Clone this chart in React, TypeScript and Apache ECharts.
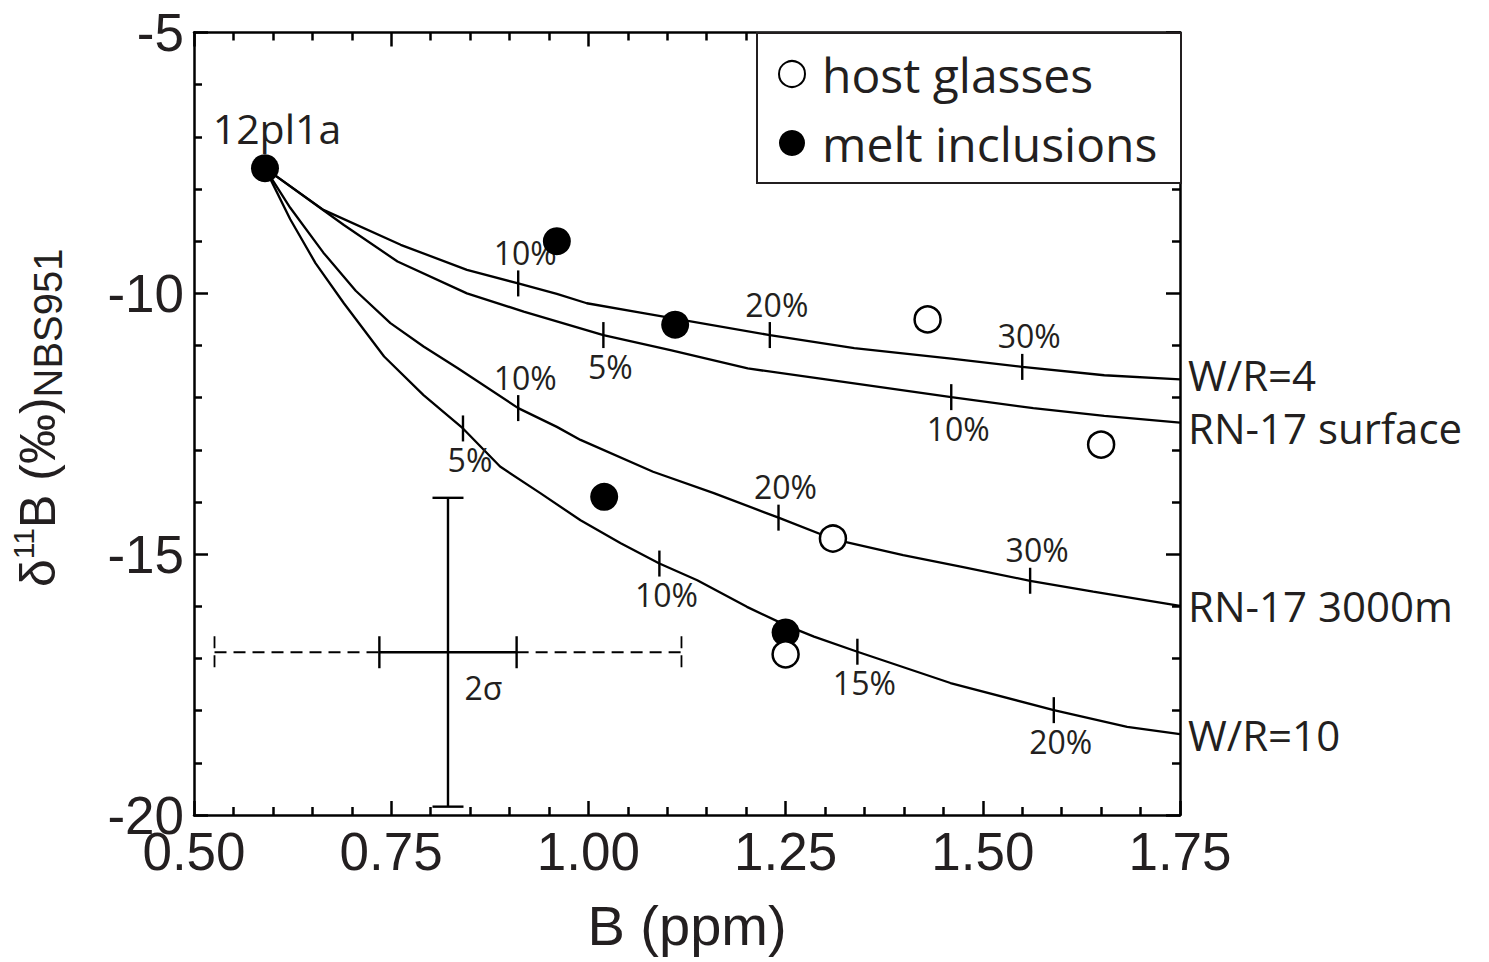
import React, { useEffect, useRef } from "react";
import * as echarts from "echarts";

// ---------------- data ----------------
const xMin = 0.5;
const xMax = 1.75;
const xStep = 0.25;
const yMin = -20;
const yMax = -5;
const yStep = 5;

const xTitle = "B (ppm)";
const legendNames = ["host glasses", "melt inclusions"];
const sourceLabel = "12pl1a";

// mixing curves
const curveNames = ["W/R=4", "RN-17 surface", "RN-17 3000m", "W/R=10"];
const wr4X = [0.59, 0.664, 0.762, 0.846, 0.911, 0.96, 0.998, 1.066, 1.23, 1.337, 1.46, 1.55, 1.654, 1.75];
const wr4Y = [-7.6, -8.4, -9.07, -9.55, -9.81, -10.01, -10.19, -10.37, -10.8, -11.05, -11.25, -11.41, -11.57, -11.65];
const surfX = [0.59, 0.69, 0.758, 0.846, 0.918, 1.019, 1.104, 1.202, 1.292, 1.46, 1.564, 1.654, 1.75];
const surfY = [-7.6, -8.69, -9.39, -10.0, -10.35, -10.8, -11.09, -11.44, -11.63, -11.99, -12.2, -12.35, -12.48];
const deepX = [0.59, 0.622, 0.664, 0.705, 0.749, 0.791, 0.834, 0.911, 0.96, 0.99, 1.082, 1.159, 1.241, 1.31, 1.399, 1.472, 1.56, 1.64, 1.75];
const deepY = [-7.6, -8.36, -9.22, -9.95, -10.57, -11.02, -11.43, -12.2, -12.56, -12.81, -13.42, -13.83, -14.3, -14.71, -15.02, -15.24, -15.51, -15.72, -15.99];
const wr10X = [0.59, 0.622, 0.654, 0.69, 0.741, 0.791, 0.841, 0.888, 0.939, 0.99, 1.041, 1.09, 1.138, 1.201, 1.25, 1.286, 1.341, 1.459, 1.59, 1.683, 1.75];
const wr10Y = [-7.6, -8.58, -9.42, -10.19, -11.21, -11.95, -12.59, -13.32, -13.83, -14.35, -14.79, -15.18, -15.5, -16.01, -16.36, -16.58, -16.87, -17.47, -17.99, -18.31, -18.45];

// percentage marks on curves
const tickX = [0.911, 1.23, 1.55, 1.019, 1.46, 0.911, 1.241, 1.56, 0.841, 1.09, 1.341, 1.59];
const tickY = [-9.81, -10.8, -11.41, -10.8, -11.99, -12.2, -14.3, -15.51, -12.59, -15.18, -16.87, -17.99];
const tickText = ["10%", "20%", "30%", "5%", "10%", "10%", "20%", "30%", "5%", "10%", "15%", "20%"];
const tickSide = ["top", "top", "top", "bottom", "bottom", "top", "top", "top", "bottom", "bottom", "bottom", "bottom"];

// samples
const hostX = [1.43, 1.65, 1.31, 1.25];
const hostY = [-10.5, -12.9, -14.7, -16.92];
const meltX = [0.59, 0.96, 1.11, 1.02, 1.25];
const meltY = [-7.6, -9.0, -10.6, -13.9, -16.5];

// 2 sigma error cross
const errCenterX = 0.822;
const errCenterY = -16.88;
const errHalfXSolid = 0.087;
const errHalfXDashed = 0.296;
const errHalfY = 2.96;
const errLabel = "2σ";
const errLabelX = 0.867;
const errLabelY = -17.55;

// ---------------- styles ----------------
const AXIS_FONT = "'Liberation Sans', Arial, Helvetica, sans-serif";
const ANNO_FONT = "'Open Sans', 'Noto Sans', sans-serif";
const TEXT = "#231f20";
const LINE = "#000000";
const END_LABEL_SHIFT = [-5, 5, 0, 0];

const pairs = (xs: number[], ys: number[]) => xs.map((x, i) => [x, ys[i]]);

function axisCommon() {
  return {
    axisLine: { show: true, onZero: false, lineStyle: { color: LINE, width: 2.5 } },
    axisTick: { show: true, inside: true, length: 14, lineStyle: { color: LINE, width: 2.5 } },
    minorTick: { show: true, splitNumber: 5, length: 8, lineStyle: { color: LINE, width: 2.5 } },
    splitLine: { show: false },
    minorSplitLine: { show: false },
  };
}

export default function App() {
  const ref = useRef<HTMLDivElement>(null);

  useEffect(() => {
    document.body.style.margin = "0";
    if (!ref.current) return;
    const chart = echarts.init(ref.current, null, { renderer: "svg" });

    const curveData = [pairs(wr4X, wr4Y), pairs(surfX, surfY), pairs(deepX, deepY), pairs(wr10X, wr10Y)];

    const lineSeries = curveNames.map((name, i) => ({
      type: "line",
      name,
      data: curveData[i],
      showSymbol: false,
      symbol: "none",
      smooth: false,
      clip: false,
      silent: true,
      z: 2,
      lineStyle: { color: LINE, width: 2.3 },
      endLabel: {
        show: true,
        formatter: "{a}",
        distance: 8,
        offset: [0, END_LABEL_SHIFT[i]],
        fontSize: 42,
        lineHeight: 40,
        fontFamily: ANNO_FONT,
        color: TEXT,
      },
    }));

    const option: any = {
      animation: false,
      backgroundColor: "#ffffff",
      grid: { left: 193.5, right: 309, top: 32.5, bottom: 147, containLabel: false },
      xAxis: [
        {
          type: "value",
          min: xMin,
          max: xMax,
          interval: xStep,
          position: "bottom",
          ...axisCommon(),
          axisLabel: {
            formatter: (v: number) => v.toFixed(2),
            fontSize: 53,
            lineHeight: 40,
            fontFamily: AXIS_FONT,
            color: TEXT,
            margin: 16,
          },
          name: xTitle,
          nameLocation: "middle",
          nameGap: 82,
          nameTextStyle: { fontSize: 56, fontFamily: AXIS_FONT, color: TEXT },
        },
        {
          type: "value",
          min: xMin,
          max: xMax,
          interval: xStep,
          position: "top",
          ...axisCommon(),
          axisLabel: { show: false },
        },
      ],
      yAxis: [
        {
          type: "value",
          min: yMin,
          max: yMax,
          interval: yStep,
          position: "left",
          ...axisCommon(),
          axisLabel: { fontSize: 53, lineHeight: 36, fontFamily: AXIS_FONT, color: TEXT, margin: 10 },
          name: "{d|δ}{sup|11}{d|B (‰)}{sub|NBS951}",
          nameLocation: "middle",
          nameRotate: 90,
          nameGap: 126,
          nameTextStyle: {
            fontSize: 50,
            fontFamily: AXIS_FONT,
            color: TEXT,
            padding: [0, 0, 0, 12],
            rich: {
              d: { fontSize: 50, lineHeight: 60, fontFamily: AXIS_FONT, color: TEXT },
              sup: { fontSize: 30, fontFamily: AXIS_FONT, color: TEXT, verticalAlign: "top" },
              sub: { fontSize: 40, fontFamily: AXIS_FONT, color: TEXT, verticalAlign: "bottom" },
            },
          },
        },
        {
          type: "value",
          min: yMin,
          max: yMax,
          interval: yStep,
          position: "right",
          ...axisCommon(),
          axisLabel: { show: false },
        },
      ],
      legend: {
        data: legendNames,
        orient: "vertical",
        left: 778,
        top: 50,
        padding: 0,
        itemWidth: 50,
        itemHeight: 26,
        itemGap: 21,
        selectedMode: false,
        icon: "circle",
        z: 10,
        textStyle: { fontSize: 48, lineHeight: 46, fontFamily: ANNO_FONT, color: TEXT },
      },
      graphic: [
        {
          type: "rect",
          z: 5,
          shape: { x: 757, y: 33, width: 424, height: 150 },
          style: { fill: "#ffffff", stroke: TEXT, lineWidth: 2 },
        },
      ],
      series: [
        ...lineSeries,
        {
          type: "scatter",
          name: "ticks",
          silent: true,
          z: 3,
          symbol: "rect",
          symbolSize: [2.4, 26],
          itemStyle: { color: LINE, opacity: 1 },
          label: {
            show: true,
            formatter: "{b}",
            fontSize: 32,
            fontFamily: ANNO_FONT,
            color: TEXT,
            distance: 2,
            offset: [7, 0],
          },
          data: tickX.map((x, i) => ({
            name: tickText[i],
            value: [x, tickY[i]],
            label: { position: tickSide[i] },
          })),
        },
        {
          type: "custom",
          name: "2 sigma",
          silent: true,
          z: 3,
          clip: false,
          data: [[errCenterX, errCenterY, errHalfXSolid, errHalfXDashed, errHalfY, errLabelX, errLabelY]],
          renderItem: (params: any, api: any) => {
            const cx = api.value(0);
            const cy = api.value(1);
            const hs = api.value(2);
            const hd = api.value(3);
            const hy = api.value(4);
            const top = api.coord([cx, cy + hy]);
            const bot = api.coord([cx, cy - hy]);
            const lo = api.coord([cx - hd, cy]);
            const li = api.coord([cx - hs, cy]);
            const ri = api.coord([cx + hs, cy]);
            const ro = api.coord([cx + hd, cy]);
            const lab = api.coord([api.value(5), api.value(6)]);
            const solid = { stroke: LINE, lineWidth: 2.4, fill: null };
            const dashed = { stroke: LINE, lineWidth: 1.8, lineDash: [12, 7], fill: null };
            const cap = 15.5;
            const tk = 16;
            const ln = (x1: number, y1: number, x2: number, y2: number, style: any) => ({
              type: "line",
              shape: { x1, y1, x2, y2 },
              style,
            });
            return {
              type: "group",
              children: [
                ln(top[0], top[1], bot[0], bot[1], solid),
                ln(top[0] - cap, top[1], top[0] + cap, top[1], solid),
                ln(bot[0] - cap, bot[1], bot[0] + cap, bot[1], solid),
                ln(li[0], li[1], ri[0], ri[1], solid),
                ln(li[0], li[1] - tk, li[0], li[1] + tk, solid),
                ln(ri[0], ri[1] - tk, ri[0], ri[1] + tk, solid),
                ln(lo[0], lo[1], li[0], li[1], dashed),
                ln(ri[0], ri[1], ro[0], ro[1], dashed),
                ln(lo[0], lo[1] - tk, lo[0], lo[1] + tk, dashed),
                ln(ro[0], ro[1] - tk, ro[0], ro[1] + tk, dashed),
                {
                  type: "text",
                  x: lab[0],
                  y: lab[1],
                  style: {
                    text: errLabel,
                    fontSize: 32,
                    fontFamily: ANNO_FONT,
                    fill: TEXT,
                    align: "center",
                    verticalAlign: "middle",
                  },
                },
              ],
            };
          },
        },
        {
          type: "scatter",
          name: legendNames[1],
          z: 4,
          symbol: "circle",
          symbolSize: 28,
          itemStyle: { color: "#000000", opacity: 1 },
          data: meltX.map((x, i) =>
            i === 0
              ? {
                  value: [x, meltY[i]],
                  label: {
                    show: true,
                    formatter: sourceLabel,
                    position: "top",
                    distance: 6,
                    offset: [12, 0],
                    fontSize: 41,
                    fontFamily: ANNO_FONT,
                    color: TEXT,
                  },
                }
              : { value: [x, meltY[i]] }
          ),
        },
        {
          type: "scatter",
          name: legendNames[0],
          z: 5,
          symbol: "circle",
          symbolSize: 26,
          itemStyle: { color: "#ffffff", borderColor: "#000000", borderWidth: 2.5, opacity: 1 },
          data: pairs(hostX, hostY),
        },
      ],
    };

    chart.setOption(option);
    return () => {
      chart.dispose();
    };
  }, []);

  return <div ref={ref} style={{ width: "1489px", height: "962px" }} />;
}
